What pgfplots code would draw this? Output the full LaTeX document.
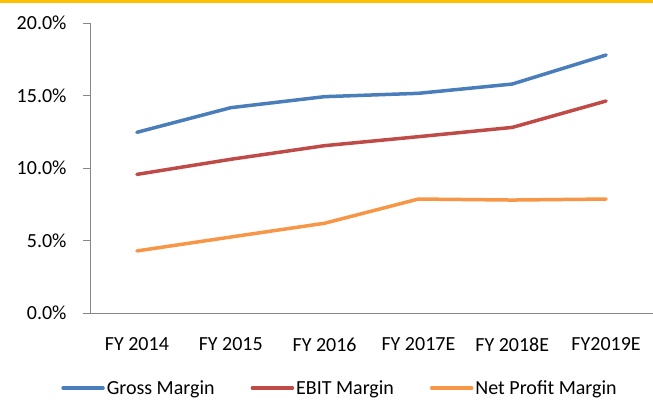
\documentclass[border=0pt]{standalone}
\usepackage{fontspec}
\setmainfont{Carlito}
\usepackage{pgfplots}
\pgfplotsset{compat=1.18}

\definecolor{gmblue}{HTML}{4A7EBB}
\definecolor{ebred}{HTML}{BE4B48}
\definecolor{npor}{HTML}{F79646}
\definecolor{axgray}{HTML}{868686}
\definecolor{topbar}{HTML}{FFC000}

\begin{document}
\begin{tikzpicture}[x=1bp,y=1bp,font=\fontsize{20bp}{24bp}\selectfont]
\useasboundingbox (0,0) rectangle (653,401);
\fill[topbar] (0,398) rectangle (653,401);
\begin{axis}[
  at={(90bp,88bp)}, anchor=south west,
  scale only axis, width=563bp, height=290bp,
  xmin=-0.5, xmax=5.5, ymin=0, ymax=20,
  axis x line=bottom, axis y line=left,
  axis line style={axgray, -},
  xtick={0,...,5},
  xticklabels={FY 2014,FY 2015,FY 2016,FY 2017E,FY 2018E,FY2019E},
  major x tick style={draw=none},
  extra x ticks={-0.5,0.5,1.5,2.5,3.5,4.5,5.5},
  extra x tick labels={},
  extra x tick style={tick style={axgray, draw=axgray}, major tick length=7bp, tick align=outside},
  xticklabel style={yshift=-14bp},
  ytick={0,5,10,15,20},
  yticklabels={0.0\%,5.0\%,10.0\%,15.0\%,20.0\%},
  ytick style={axgray},
  tick align=outside, major tick length=7bp,
  yticklabel style={xshift=-13bp},
  legend columns=3,
  legend style={at={(0.444,-0.259)}, anchor=center, draw=none, fill=none,
    /tikz/every even column/.append style={column sep=34bp}},
  legend image code/.code={\draw[#1] (0bp,0bp) -- (40bp,0bp);},
  every axis plot/.append style={line width=3.5bp, line cap=round, line join=round},
  clip=false,
]
\addplot[gmblue] coordinates {(0,12.46) (1,14.16) (2,14.92) (3,15.15) (4,15.79) (5,17.79)};
\addplot[ebred] coordinates {(0,9.56) (1,10.6) (2,11.54) (3,12.16) (4,12.8) (5,14.62)};
\addplot[npor] coordinates {(0,4.28) (1,5.24) (2,6.19) (3,7.86) (4,7.79) (5,7.86)};
\legend{Gross Margin,EBIT Margin,Net Profit Margin}
\end{axis}
\end{tikzpicture}
\end{document}
